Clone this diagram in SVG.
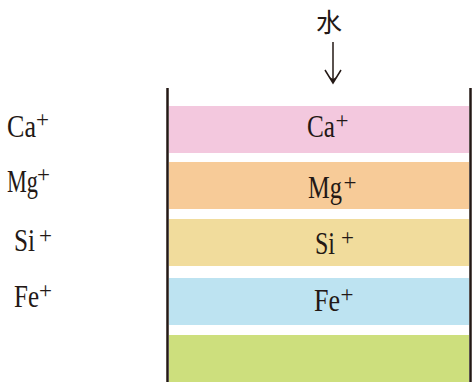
<svg xmlns="http://www.w3.org/2000/svg" width="472" height="382" viewBox="0 0 472 382">
<style>
.t{font-family:"Liberation Serif","Times New Roman",serif;font-size:31px;fill:#231815}
.p{font-size:23px;text-anchor:middle}
.w{stroke:#231815;stroke-width:2.5;fill:none}
.a{stroke:#231815;stroke-width:1.5;fill:none}
</style>
<rect width="472" height="382" fill="#ffffff"/>
<g id="layers">
<rect id="layer-ca" x="169" y="106" width="300" height="47" fill="#f3c8de"/>
<rect id="layer-mg" x="169" y="162" width="300" height="47" fill="#f7cb98"/>
<rect id="layer-si" x="169" y="219" width="300" height="47" fill="#f1dc9c"/>
<rect id="layer-fe" x="169" y="278" width="300" height="47" fill="#bde3f1"/>
<rect id="layer-bottom" x="169" y="335" width="300" height="47" fill="#cddf7d"/>
</g>
<g id="walls">
<line class="w" x1="167.5" y1="88" x2="167.5" y2="382"/>
<line class="w" x1="470.5" y1="88" x2="470.5" y2="382"/>
</g>
<g id="connectors">
<line class="a" x1="333" y1="42" x2="333" y2="81"/>
<polyline class="a" points="325,70 333,83 341,70"/>
<polygon points="329.5,77 333,83 336.5,77 333,79" fill="#231815"/>
</g>
<g id="water">
<text x="329" y="32" style="font-family:'Noto Sans CJK SC',sans-serif;font-size:26px;fill:#231815;text-anchor:middle">水</text>
</g>
<g id="left-labels">
<g id="l-ca"><text class="t" x="7" y="137"><tspan textLength="29" lengthAdjust="spacingAndGlyphs">Ca</tspan><tspan class="p" x="42.5" y="127">+</tspan></text></g>
<g id="l-mg"><text class="t" x="7" y="192"><tspan textLength="31" lengthAdjust="spacingAndGlyphs">Mg</tspan><tspan class="p" x="43.5" y="182">+</tspan></text></g>
<g id="l-si"><text class="t" x="14" y="251"><tspan textLength="21" lengthAdjust="spacingAndGlyphs">Si</tspan><tspan class="p" x="45.5" y="243">+</tspan></text></g>
<g id="l-fe"><text class="t" x="14" y="307"><tspan textLength="25" lengthAdjust="spacingAndGlyphs">Fe</tspan><tspan class="p" x="45.5" y="297.5">+</tspan></text></g>
</g>
<g id="layer-labels">
<g id="c-ca"><text class="t" x="307" y="137"><tspan textLength="28" lengthAdjust="spacingAndGlyphs">Ca</tspan><tspan class="p" x="342" y="127.5">+</tspan></text></g>
<g id="c-mg"><text class="t" x="308" y="197.5"><tspan textLength="34" lengthAdjust="spacingAndGlyphs">Mg</tspan><tspan class="p" x="350" y="189.5">+</tspan></text></g>
<g id="c-si"><text class="t" x="315" y="254"><tspan textLength="20" lengthAdjust="spacingAndGlyphs">Si</tspan><tspan class="p" x="347.5" y="244.5">+</tspan></text></g>
<g id="c-fe"><text class="t" x="314" y="311"><tspan textLength="26" lengthAdjust="spacingAndGlyphs">Fe</tspan><tspan class="p" x="347" y="302">+</tspan></text></g>
</g>
</svg>
